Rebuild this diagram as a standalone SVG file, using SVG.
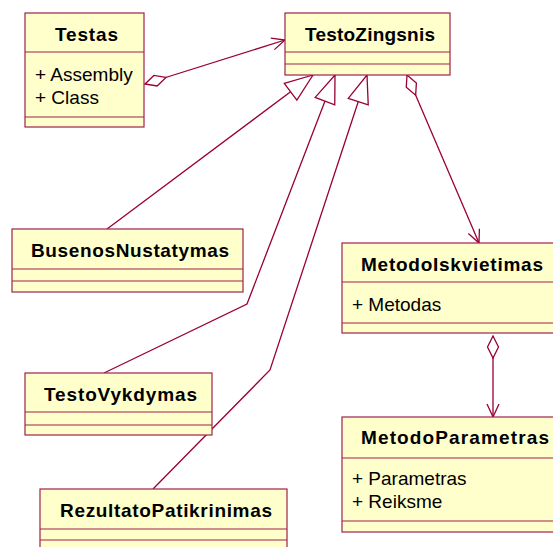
<svg xmlns="http://www.w3.org/2000/svg" width="553" height="547" viewBox="0 0 553 547">
  <style>
    .box { fill: #FFFFCC; stroke: #A0204F; stroke-width: 1.2; }
    .sep { stroke: #A0204F; stroke-width: 1.2; }
    .title { font-family: "Liberation Sans", Arial, sans-serif; font-weight: bold; font-size: 19px; fill: #000; }
    .attr { font-family: "Liberation Sans", Arial, sans-serif; font-size: 19px; fill: #000; }
    .link { fill: none; stroke: #990033; stroke-width: 1.3; }
  </style>
  <defs>
    <marker id="openArrow" markerUnits="userSpaceOnUse" markerWidth="30" markerHeight="30" viewBox="-15 -15 30 30" refX="0" refY="0" orient="auto">
      <path d="M-13,-6 L0,0 L-13,6" fill="none" stroke="#990033" stroke-width="1.3"/>
    </marker>
    <marker id="hollowDiamond" markerUnits="userSpaceOnUse" markerWidth="30" markerHeight="30" viewBox="-2 -15 30 30" refX="0" refY="0" orient="auto">
      <path d="M0,0 L11,-5.5 L22,0 L11,5.5 Z" fill="#FFFFFF" stroke="#990033" stroke-width="1.3"/>
    </marker>
    <marker id="hollowTriangle" markerUnits="userSpaceOnUse" markerWidth="34" markerHeight="34" viewBox="-2 -17 34 34" refX="0" refY="0" orient="auto">
      <path d="M0,0 L28,-10.5 L28,10.5 Z" fill="#FFFFFF" stroke="#990033" stroke-width="1.3"/>
    </marker>
  </defs>
  <rect width="553" height="547" fill="#FFFFFF"/>

  <!-- connectors -->
  <g id="connectors">
    <path class="link" d="M145,84 L285,40" marker-start="url(#hollowDiamond)" marker-end="url(#openArrow)"/>
    <path class="link" d="M407,75 L479,243" marker-start="url(#hollowDiamond)" marker-end="url(#openArrow)"/>
    <path class="link" d="M493,336 L493,417" marker-start="url(#hollowDiamond)" marker-end="url(#openArrow)"/>
    <path class="link" d="M313,75 L107,229" marker-start="url(#hollowTriangle)"/>
    <path class="link" d="M335,75 L247,304 L104,373" marker-start="url(#hollowTriangle)"/>
    <path class="link" d="M367,75 L270,370 L153,489" marker-start="url(#hollowTriangle)"/>
  </g>

  <g id="Testas">
    <rect class="box" x="25" y="13" width="119" height="114"/>
    <line class="sep" x1="25" y1="52" x2="144" y2="52"/>
    <line class="sep" x1="25" y1="117" x2="144" y2="117"/>
    <text class="title" x="55" y="41" textLength="63" lengthAdjust="spacing">Testas</text>
    <text class="attr" x="35" y="81">+ Assembly</text>
    <text class="attr" x="35" y="104">+ Class</text>
  </g>

  <g id="TestoZingsnis">
    <rect class="box" x="285" y="13" width="165" height="62"/>
    <line class="sep" x1="285" y1="52" x2="450" y2="52"/>
    <line class="sep" x1="285" y1="64" x2="450" y2="64"/>
    <text class="title" x="305" y="41" textLength="130" lengthAdjust="spacing">TestoZingsnis</text>
  </g>

  <g id="BusenosNustatymas">
    <rect class="box" x="12" y="229" width="231" height="63"/>
    <line class="sep" x1="12" y1="269" x2="243" y2="269"/>
    <line class="sep" x1="12" y1="281" x2="243" y2="281"/>
    <text class="title" x="31" y="257" textLength="198" lengthAdjust="spacing">BusenosNustatymas</text>
  </g>

  <g id="TestoVykdymas">
    <rect class="box" x="25" y="373" width="187" height="62"/>
    <line class="sep" x1="25" y1="412" x2="212" y2="412"/>
    <line class="sep" x1="25" y1="425" x2="212" y2="425"/>
    <text class="title" x="44" y="401" textLength="153" lengthAdjust="spacing">TestoVykdymas</text>
  </g>

  <g id="RezultatoPatikrinimas">
    <rect class="box" x="40" y="489" width="247" height="70"/>
    <line class="sep" x1="40" y1="529" x2="287" y2="529"/>
    <line class="sep" x1="40" y1="540" x2="287" y2="540"/>
    <text class="title" x="60" y="517" textLength="212" lengthAdjust="spacing">RezultatoPatikrinimas</text>
  </g>

  <g id="MetodoIskvietimas">
    <rect class="box" x="342" y="243" width="220" height="90"/>
    <line class="sep" x1="342" y1="282" x2="562" y2="282"/>
    <line class="sep" x1="342" y1="323" x2="562" y2="323"/>
    <text class="title" x="361" y="271" textLength="182" lengthAdjust="spacing">MetodoIskvietimas</text>
    <text class="attr" x="352" y="311">+ Metodas</text>
  </g>

  <g id="MetodoParametras">
    <rect class="box" x="342" y="417" width="220" height="115"/>
    <line class="sep" x1="342" y1="458" x2="562" y2="458"/>
    <line class="sep" x1="342" y1="521" x2="562" y2="521"/>
    <text class="title" x="361" y="444" textLength="188" lengthAdjust="spacing">MetodoParametras</text>
    <text class="attr" x="352" y="485">+ Parametras</text>
    <text class="attr" x="352" y="508">+ Reiksme</text>
  </g>
</svg>
